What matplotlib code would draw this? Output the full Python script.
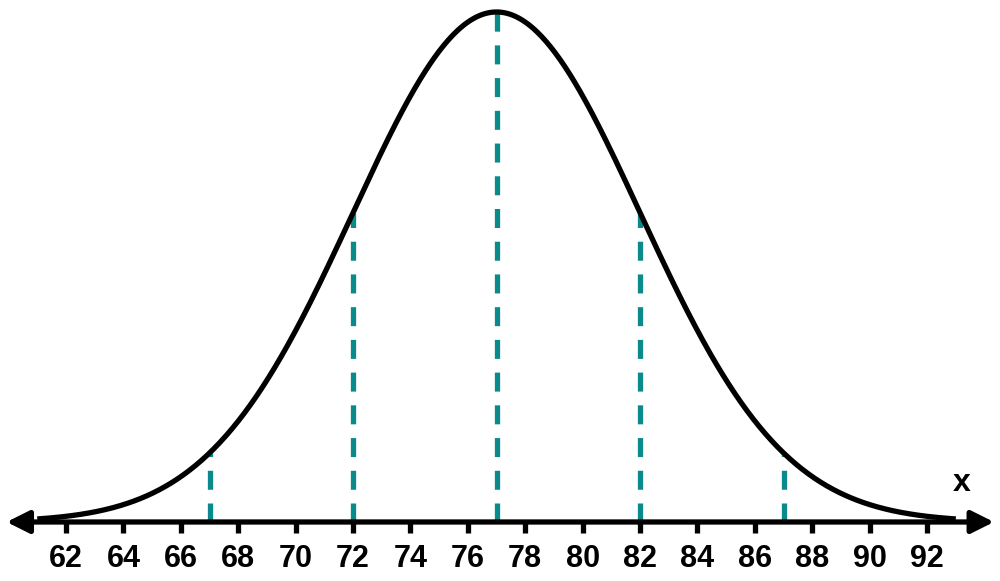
import numpy as np
import matplotlib
matplotlib.use('Agg')
import matplotlib.pyplot as plt

plt.rcParams['font.family'] = ['Liberation Sans', 'DejaVu Sans']

# distribution
mean = 77
sd = 5
x_start, x_end = 61, 93
tick_values = [62, 64, 66, 68, 70, 72, 74, 76, 78, 80, 82, 84, 86, 88, 90, 92]
marker_values = [67, 72, 77, 82, 87]
teal = '#0a8a8a'

xs = np.linspace(x_start, x_end, 600)
def bell(v):
    return np.exp(-0.5 * ((np.asarray(v) - mean) / sd) ** 2)

fig = plt.figure(figsize=(10, 5.81), dpi=100)
ax = fig.add_axes([0, 0, 1, 1])
ax.set_xlim(59.70, 94.54)
ax.set_ylim(-0.1157, 1.0235)

# curve
ax.plot(xs, bell(xs), color='black', lw=3.8, solid_capstyle='butt', zorder=3)

# dashed guides
for m in marker_values:
    ax.plot([m, m], [0, bell(m)], color=teal, lw=3.8, ls=(0, (3.6, 2.6)),
            zorder=2)

# number line with arrows at both ends
ax.annotate('', xy=(59.93, 0), xytext=(94.33, 0),
            arrowprops=dict(arrowstyle='<|-|>', lw=3.8, color='black',
                            mutation_scale=34, shrinkA=0, shrinkB=0),
            zorder=4)

for side in ['top', 'right', 'left', 'bottom']:
    ax.spines[side].set_visible(False)
ax.spines['bottom'].set_position(('data', 0))
ax.set_xticks(tick_values)
ax.set_xticklabels([str(t) for t in tick_values], fontsize=22, fontweight='bold')
ax.tick_params(axis='x', direction='out', length=8, width=3.8, pad=8)
ax.set_yticks([])

ax.text(962, 98, 'x', transform=None, fontsize=23, fontweight='bold',
        ha='center', va='center')

fig.savefig('out.png', dpi=100)
